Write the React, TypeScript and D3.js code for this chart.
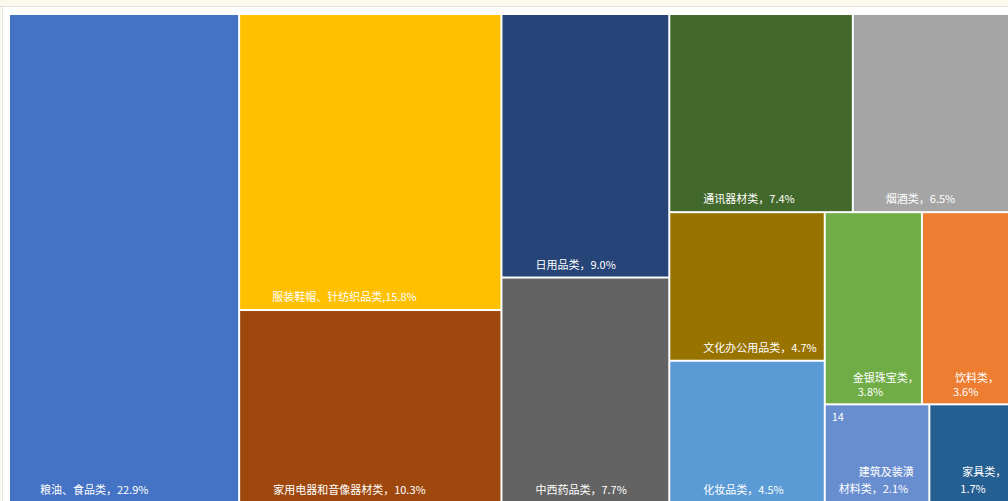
import React from "react";
import * as d3 from "d3";

// ---------- data ----------
const categories = [
  "粮油、食品类",
  "服装鞋帽、针纺织品类",
  "家用电器和音像器材类",
  "日用品类",
  "中西药品类",
  "通讯器材类",
  "烟酒类",
  "文化办公用品类",
  "化妆品类",
  "金银珠宝类",
  "饮料类",
  "建筑及装潢材料类",
  "家具类",
];
const shares = [22.9, 15.8, 10.3, 9.0, 7.7, 7.4, 6.5, 4.7, 4.5, 3.8, 3.6, 2.1, 1.7];
const labelTexts = [
  ["粮油、食品类，22.9%"],
  ["服装鞋帽、针纺织品类,15.8%"],
  ["家用电器和音像器材类，10.3%"],
  ["日用品类，9.0%"],
  ["中西药品类，7.7%"],
  ["通讯器材类，7.4%"],
  ["烟酒类，6.5%"],
  ["文化办公用品类，4.7%"],
  ["化妆品类，4.5%"],
  ["金银珠宝类，", "3.8%"],
  ["饮料类，", "3.6%"],
  ["建筑及装潢", "材料类，2.1%"],
  ["家具类，", "1.7%"],
];
// grouping of category indices (nesting of the treemap tiles)
const grouping: any = [0, [1, 2], [3, 4], [[5, 6], [[7, 8], [[9, 10], [11, 12]]]]];
const extraTag = { index: 11, text: "14" };

// ---------- styles ----------
const colors = [
  "#4472C4", "#FFC000", "#9E480E", "#264478", "#636363", "#43682B", "#A5A5A5",
  "#997300", "#5B9BD5", "#70AD47", "#ED7D31", "#698ED0", "#255E91",
];
// per-label line offsets: [dx from cell left, dy from cell bottom]
const labelOffsets: number[][][] = [
  [[30, -8]],
  [[32, -8]],
  [[33, -8]],
  [[33, -8]],
  [[33, -8]],
  [[33, -8]],
  [[32, -8]],
  [[33, -8]],
  [[33, -8]],
  [[27, -21], [32, -7]],
  [[32, -21], [30, -7]],
  [[33, -26], [13, -9]],
  [[32, -26], [30, -9]],
];

const W = 1008;
const H = 501;
const X0 = 10;
const Y0 = 15;
const TW = 1003;
const TH = 487;
const FONT = "'Noto Sans CJK SC', 'Noto Sans', sans-serif";

function build(g: any): any {
  if (typeof g === "number") return { idx: g, value: shares[g] };
  return { children: g.map(build) };
}

export default function App() {
  const root = d3
    .hierarchy(build(grouping))
    .sum((d: any) => (d.children ? 0 : d.value));
  d3.treemap().tile(d3.treemapSliceDice).size([TW, TH]).paddingInner(2)(root as any);
  const leaves = root.leaves() as any[];

  return (
    <svg
      width={W}
      height={H}
      style={{ position: "fixed", left: 0, top: 0, display: "block", background: "#ffffff" }}
    >
      <rect x={0} y={0} width={W} height={6.5} fill="#fdf8ec" />
      <line x1={0} x2={W} y1={6.5} y2={6.5} stroke="#e6e1d8" strokeWidth={1} />
      <rect x={0} y={7} width={2} height={H - 7} fill="#fbf8f1" />
      <line x1={2.5} x2={2.5} y1={7} y2={H} stroke="#e4e4e4" strokeWidth={1} />
      <g transform={`translate(${X0},${Y0})`}>
        {leaves.map((lf) => {
          const i = lf.data.idx;
          return (
            <rect
              key={"r" + i}
              x={lf.x0}
              y={lf.y0}
              width={lf.x1 - lf.x0}
              height={lf.y1 - lf.y0}
              fill={colors[i]}
            />
          );
        })}
        {leaves.map((lf) => {
          const i = lf.data.idx;
          return labelTexts[i].map((t, k) => (
            <text
              key={"t" + i + "_" + k}
              x={lf.x0 + labelOffsets[i][k][0]}
              y={lf.y1 + labelOffsets[i][k][1]}
              fill="#ffffff"
              fontSize={11}
              fontFamily={FONT}
            >
              {t}
            </text>
          ));
        })}
        {leaves
          .filter((lf) => lf.data.idx === extraTag.index)
          .map((lf) => (
            <text
              key="tag"
              x={lf.x0 + 6}
              y={lf.y0 + 16}
              fill="#ffffff"
              fontSize={11}
              fontFamily={FONT}
            >
              {extraTag.text}
            </text>
          ))}
      </g>
    </svg>
  );
}
